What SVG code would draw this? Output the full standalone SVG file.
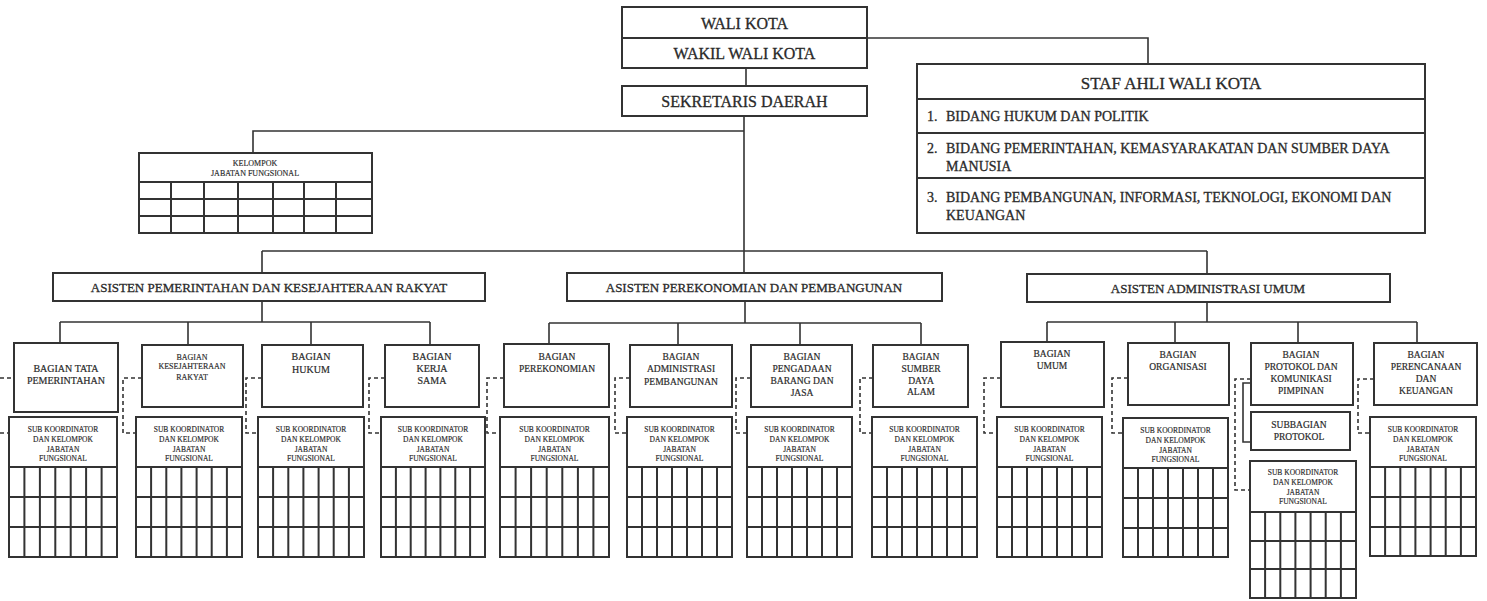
<svg xmlns="http://www.w3.org/2000/svg" width="1487" height="601" viewBox="0 0 1487 601">
<style>
.box{fill:#fff;stroke:#333;stroke-width:2}
.grid{fill:none;stroke:#333;stroke-width:2}
.ln{fill:none;stroke:#333;stroke-width:1.6}
.dash{fill:none;stroke:#333;stroke-width:1.6;stroke-dasharray:4 3}
text{font-family:"Liberation Serif","DejaVu Serif",serif;fill:#2a2a2a;stroke:#2a2a2a;stroke-width:0.3;text-anchor:middle}
.t16{font-size:16px}
.t17{font-size:17px}
.t14{font-size:14px;text-anchor:start}
.t13{font-size:13px}
.t10{font-size:10px;stroke-width:0.2}
.t95{font-size:9.5px;stroke-width:0.2}
.t8{font-size:8px;stroke-width:0.15}
.t75{font-size:7.5px;stroke-width:0.15}
</style>
<rect width="1487" height="601" fill="#fff"/>
<g id="connectors">
<path class="ln" d="M867 38H1148V64"/>
<path class="ln" d="M746 68V86"/>
<path class="ln" d="M744 116V273"/>
<path class="ln" d="M744 131H253V153"/>
<path class="ln" d="M262 251H1207"/>
<path class="ln" d="M262 251V273M1207 251V274"/>
<path class="ln" d="M262 301V322M60 322H430M60 322V343M188 322V345M311 322V345M430 322V345"/>
<path class="ln" d="M745 301V323M549 323H921M549 323V344M678 323V345M800 323V345M921 323V345"/>
<path class="ln" d="M1207 302V322M1047 322H1417M1047 322V342M1175 322V343M1298 322V343M1417 322V343"/>
<path class="ln" d="M1251 383H1243V442H1251"/>
<path class="dash" d="M0 378H14M0 433H9"/>
<path class="dash" d="M142 378H123V433H136"/>
<path class="dash" d="M262 378H246V433H258"/>
<path class="dash" d="M385 378H369V433H381"/>
<path class="dash" d="M504 378H487V433H500"/>
<path class="dash" d="M630 378H615V433H627"/>
<path class="dash" d="M751 378H736V433H747"/>
<path class="dash" d="M873 378H860V433H872"/>
<path class="dash" d="M1001 378H984V433H997"/>
<path class="dash" d="M1128 378H1112V433H1123"/>
<path class="dash" d="M1251 379H1235V490H1250"/>
<path class="dash" d="M1374 379H1358V433H1370"/>
</g>
<g id="wali-kota"><rect class="box" x="622" y="7" width="245" height="31"/><text class="t16" x="744.5" y="29">WALI KOTA</text></g>
<g id="wakil-wali-kota"><rect class="box" x="622" y="38" width="245" height="30"/><text class="t16" x="744.5" y="59">WAKIL WALI KOTA</text></g>
<g id="sekretaris-daerah"><rect class="box" x="622" y="86" width="245" height="30"/><text class="t16" x="744.5" y="107">SEKRETARIS DAERAH</text></g>
<g id="staf-ahli">
<rect class="box" x="917" y="64" width="508" height="169"/>
<path class="grid" d="M917 99H1425M917 133H1425M917 178H1425"/>
<text class="t17" x="1171" y="89">STAF AHLI WALI KOTA</text>
<text class="t14" x="927" y="121">1.</text><text class="t14" x="946" y="121">BIDANG HUKUM DAN POLITIK</text>
<text class="t14" x="927" y="153">2.</text><text class="t14" x="946" y="153">BIDANG PEMERINTAHAN, KEMASYARAKATAN DAN SUMBER DAYA</text>
<text class="t14" x="946" y="171">MANUSIA</text>
<text class="t14" x="927" y="202">3.</text><text class="t14" x="946" y="202">BIDANG PEMBANGUNAN, INFORMASI, TEKNOLOGI, EKONOMI DAN</text>
<text class="t14" x="946" y="220">KEUANGAN</text>
</g>
<g id="kelompok-jf">
<rect class="box" x="139" y="153" width="233" height="80"/>
<path class="grid" d="M139 182H372M139 199H372M139 216H372M171 182V233M204 182V233M238 182V233M273 182V233M304 182V233M336 182V233"/>
<text class="t8" x="255" y="166">KELOMPOK</text>
<text class="t8" x="255" y="176">JABATAN FUNGSIONAL</text>
</g>
<g id="asisten-1"><rect class="box" x="53" y="273" width="432" height="28"/><text class="t13" x="269" y="292">ASISTEN PEMERINTAHAN DAN KESEJAHTERAAN RAKYAT</text></g>
<g id="asisten-2"><rect class="box" x="567" y="273" width="375" height="28"/><text class="t13" x="754" y="292">ASISTEN PEREKONOMIAN DAN PEMBANGUNAN</text></g>
<g id="asisten-3"><rect class="box" x="1027" y="274" width="363" height="28"/><text class="t13" x="1208" y="293">ASISTEN ADMINISTRASI UMUM</text></g>

<g id="bagian-tata-pemerintahan"><rect class="box" x="14" y="343" width="104" height="69"/><text class="t10" x="66" y="372">BAGIAN  TATA</text><text class="t10" x="66" y="384">PEMERINTAHAN</text></g>
<g id="bagian-kesra"><rect class="box" x="142" y="345" width="101" height="62"/><text class="t8" x="192" y="360">BAGIAN</text><text class="t8" x="192" y="369">KESEJAHTERAAN</text><text class="t8" x="192" y="380">RAKYAT</text></g>
<g id="bagian-hukum"><rect class="box" x="262" y="345" width="101" height="62"/><text class="t10" x="311" y="360">BAGIAN</text><text class="t10" x="311" y="373">HUKUM</text></g>
<g id="bagian-kerja-sama"><rect class="box" x="385" y="345" width="94" height="62"/><text class="t10" x="432" y="360">BAGIAN</text><text class="t10" x="432" y="372">KERJA</text><text class="t10" x="432" y="384">SAMA</text></g>
<g id="bagian-perekonomian"><rect class="box" x="504" y="344" width="105" height="63"/><text class="t95" x="557" y="360">BAGIAN</text><text class="t95" x="557" y="372">PEREKONOMIAN</text></g>
<g id="bagian-administrasi-pembangunan"><rect class="box" x="630" y="345" width="102" height="62"/><text class="t95" x="681" y="360">BAGIAN</text><text class="t95" x="681" y="372">ADMINISTRASI</text><text class="t95" x="681" y="385">PEMBANGUNAN</text></g>
<g id="bagian-pengadaan"><rect class="box" x="751" y="345" width="101" height="62"/><text class="t95" x="802" y="360">BAGIAN</text><text class="t95" x="802" y="372">PENGADAAN</text><text class="t95" x="802" y="384">BARANG DAN</text><text class="t95" x="802" y="396">JASA</text></g>
<g id="bagian-sda"><rect class="box" x="873" y="345" width="95" height="62"/><text class="t95" x="921" y="360">BAGIAN</text><text class="t95" x="921" y="372">SUMBER</text><text class="t95" x="921" y="384">DAYA</text><text class="t95" x="921" y="395">ALAM</text></g>
<g id="bagian-umum"><rect class="box" x="1001" y="342" width="103" height="65"/><text class="t95" x="1052" y="357">BAGIAN</text><text class="t95" x="1052" y="369">UMUM</text></g>
<g id="bagian-organisasi"><rect class="box" x="1128" y="343" width="101" height="62"/><text class="t95" x="1178" y="358">BAGIAN</text><text class="t95" x="1178" y="370">ORGANISASI</text></g>
<g id="bagian-protokol"><rect class="box" x="1251" y="343" width="102" height="62"/><text class="t95" x="1301" y="358">BAGIAN</text><text class="t95" x="1301" y="370">PROTOKOL DAN</text><text class="t95" x="1301" y="382">KOMUNIKASI</text><text class="t95" x="1301" y="394">PIMPINAN</text></g>
<g id="subbagian-protokol"><rect class="box" x="1251" y="412" width="99" height="38"/><text class="t95" x="1299" y="428">SUBBAGIAN</text><text class="t95" x="1299" y="440">PROTOKOL</text></g>
<g id="bagian-perencanaan"><rect class="box" x="1374" y="343" width="103" height="62"/><text class="t95" x="1426" y="358">BAGIAN</text><text class="t95" x="1426" y="370">PERENCANAAN</text><text class="t95" x="1426" y="382">DAN</text><text class="t95" x="1426" y="394">KEUANGAN</text></g>

<g id="sub-1"><rect class="box" x="9" y="417" width="108" height="140"/><path class="grid" d="M9 467H117M9 497H117M9 527H117M24.4 467V557M39.9 467V557M55.3 467V557M70.7 467V557M86.1 467V557M101.6 467V557"/><text class="t75" x="63" y="432">SUB KOORDINATOR</text><text class="t75" x="63" y="442">DAN KELOMPOK</text><text class="t75" x="63" y="452">JABATAN</text><text class="t75" x="63" y="461">FUNGSIONAL</text></g>
<g id="sub-2"><rect class="box" x="136" y="417" width="106" height="140"/><path class="grid" d="M136 467H242M136 497H242M136 527H242M151.1 467V557M166.3 467V557M181.4 467V557M196.6 467V557M211.7 467V557M226.9 467V557"/><text class="t75" x="189" y="432">SUB KOORDINATOR</text><text class="t75" x="189" y="442">DAN KELOMPOK</text><text class="t75" x="189" y="452">JABATAN</text><text class="t75" x="189" y="461">FUNGSIONAL</text></g>
<g id="sub-3"><rect class="box" x="258" y="417" width="106" height="140"/><path class="grid" d="M258 467H364M258 497H364M258 527H364M273.1 467V557M288.3 467V557M303.4 467V557M318.6 467V557M333.7 467V557M348.9 467V557"/><text class="t75" x="311" y="432">SUB KOORDINATOR</text><text class="t75" x="311" y="442">DAN KELOMPOK</text><text class="t75" x="311" y="452">JABATAN</text><text class="t75" x="311" y="461">FUNGSIONAL</text></g>
<g id="sub-4"><rect class="box" x="381" y="417" width="104" height="140"/><path class="grid" d="M381 467H485M381 497H485M381 527H485M395.9 467V557M410.7 467V557M425.6 467V557M440.4 467V557M455.3 467V557M470.1 467V557"/><text class="t75" x="433" y="432">SUB KOORDINATOR</text><text class="t75" x="433" y="442">DAN KELOMPOK</text><text class="t75" x="433" y="452">JABATAN</text><text class="t75" x="433" y="461">FUNGSIONAL</text></g>
<g id="sub-5"><rect class="box" x="500" y="417" width="109" height="140"/><path class="grid" d="M500 467H609M500 497H609M500 527H609M515.6 467V557M531.1 467V557M546.7 467V557M562.3 467V557M577.9 467V557M593.4 467V557"/><text class="t75" x="554.5" y="432">SUB KOORDINATOR</text><text class="t75" x="554.5" y="442">DAN KELOMPOK</text><text class="t75" x="554.5" y="452">JABATAN</text><text class="t75" x="554.5" y="461">FUNGSIONAL</text></g>
<g id="sub-6"><rect class="box" x="627" y="417" width="105" height="140"/><path class="grid" d="M627 467H732M627 497H732M627 527H732M642 467V557M657 467V557M672 467V557M687 467V557M702 467V557M717 467V557"/><text class="t75" x="679.5" y="432">SUB KOORDINATOR</text><text class="t75" x="679.5" y="442">DAN KELOMPOK</text><text class="t75" x="679.5" y="452">JABATAN</text><text class="t75" x="679.5" y="461">FUNGSIONAL</text></g>
<g id="sub-7"><rect class="box" x="747" y="417" width="105" height="140"/><path class="grid" d="M747 467H852M747 497H852M747 527H852M762 467V557M777 467V557M792 467V557M807 467V557M822 467V557M837 467V557"/><text class="t75" x="799.5" y="432">SUB KOORDINATOR</text><text class="t75" x="799.5" y="442">DAN KELOMPOK</text><text class="t75" x="799.5" y="452">JABATAN</text><text class="t75" x="799.5" y="461">FUNGSIONAL</text></g>
<g id="sub-8"><rect class="box" x="872" y="417" width="105" height="140"/><path class="grid" d="M872 467H977M872 497H977M872 527H977M887 467V557M902 467V557M917 467V557M932 467V557M947 467V557M962 467V557"/><text class="t75" x="924.5" y="432">SUB KOORDINATOR</text><text class="t75" x="924.5" y="442">DAN KELOMPOK</text><text class="t75" x="924.5" y="452">JABATAN</text><text class="t75" x="924.5" y="461">FUNGSIONAL</text></g>
<g id="sub-9"><rect class="box" x="997" y="417" width="105" height="140"/><path class="grid" d="M997 467H1102M997 497H1102M997 527H1102M1012 467V557M1027 467V557M1042 467V557M1057 467V557M1072 467V557M1087 467V557"/><text class="t75" x="1049.5" y="432">SUB KOORDINATOR</text><text class="t75" x="1049.5" y="442">DAN KELOMPOK</text><text class="t75" x="1049.5" y="452">JABATAN</text><text class="t75" x="1049.5" y="461">FUNGSIONAL</text></g>
<g id="sub-10"><rect class="box" x="1123" y="418" width="105" height="139"/><path class="grid" d="M1123 468H1228M1123 498H1228M1123 528H1228M1138 468V557M1153 468V557M1168 468V557M1183 468V557M1198 468V557M1213 468V557"/><text class="t75" x="1175.5" y="433">SUB KOORDINATOR</text><text class="t75" x="1175.5" y="443">DAN KELOMPOK</text><text class="t75" x="1175.5" y="453">JABATAN</text><text class="t75" x="1175.5" y="462">FUNGSIONAL</text></g>
<g id="sub-11"><rect class="box" x="1250" y="461" width="106" height="137"/><path class="grid" d="M1250 512H1356M1250 541H1356M1250 569H1356M1265.1 512V598M1280.3 512V598M1295.4 512V598M1310.6 512V598M1325.7 512V598M1340.9 512V598"/><text class="t75" x="1303" y="475">SUB KOORDINATOR</text><text class="t75" x="1303" y="485">DAN KELOMPOK</text><text class="t75" x="1303" y="495">JABATAN</text><text class="t75" x="1303" y="504">FUNGSIONAL</text></g>
<g id="sub-12"><rect class="box" x="1370" y="417" width="106" height="139"/><path class="grid" d="M1370 467H1476M1370 497H1476M1370 527H1476M1385.1 467V556M1400.3 467V556M1415.4 467V556M1430.6 467V556M1445.7 467V556M1460.9 467V556"/><text class="t75" x="1423" y="432">SUB KOORDINATOR</text><text class="t75" x="1423" y="442">DAN KELOMPOK</text><text class="t75" x="1423" y="452">JABATAN</text><text class="t75" x="1423" y="461">FUNGSIONAL</text></g>
</svg>
